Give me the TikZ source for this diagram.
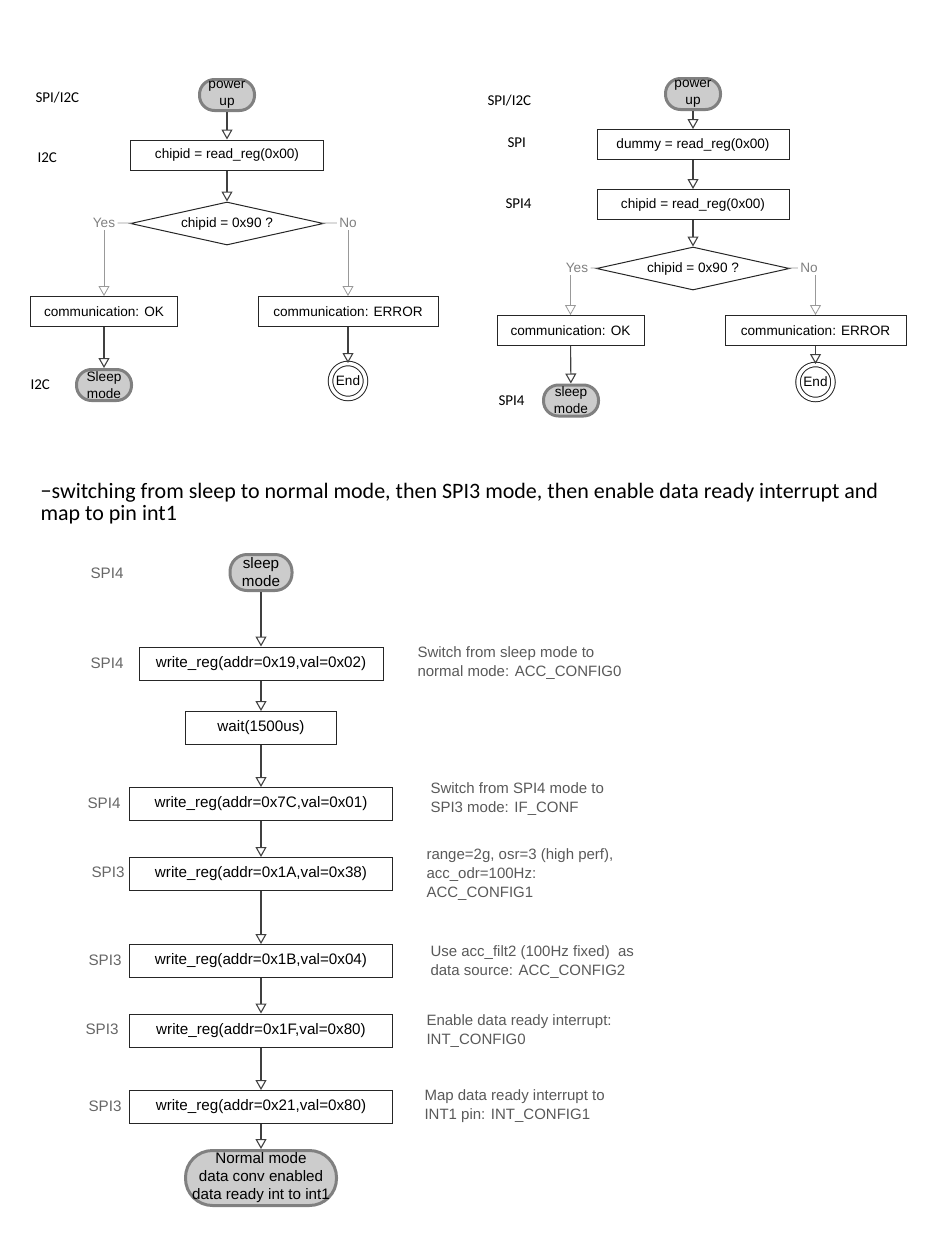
\documentclass[tikz,border=0pt]{standalone}
\usepackage{fontspec}
\setmainfont{Liberation Sans}
\newfontfamily\calib{Carlito}
\usetikzlibrary{arrows.meta,shapes.geometric,positioning}

\newcommand{\fntA}{\fontsize{13.6}{17}\selectfont}
\newcommand{\fntB}{\fontsize{15.2}{18}\selectfont}

\begin{document}
\begin{tikzpicture}[x=1pt,y=-1pt,->,>={Triangle[open,length=10pt,width=11pt]},
                    line width=1.1pt,draw=black!75,
                    box/.style={rectangle,draw=black!85,line width=1pt,minimum height=30pt,inner sep=0pt,font=\fntA},
                    boxb/.style={box,minimum height=33pt,font=\fntB},
                    pill/.style={rectangle,rounded corners=15pt,draw=black!50,line width=3pt,
                                 fill=black!20,inner sep=0pt,align=center,minimum width=55pt,minimum height=31pt,font=\fntA},
                    cond/.style={diamond,draw=black!85,line width=1pt,shape aspect=4.5,minimum width=193pt,
                                 minimum height=43pt,inner sep=0pt,font=\fntA},
                    stop/.style={circle,draw=black!85,line width=1pt,double,double distance=3.5pt,
                                 minimum size=35pt,inner sep=0pt,font=\fntA},
                    yn/.style={text=black!50,font=\fntA,inner sep=2pt},
                    faint/.style={draw=black!40,line width=0.8pt},
                    iface/.style={anchor=west,inner sep=0pt,font=\calib\fontsize{15}{18}\selectfont},
                    ifaceb/.style={anchor=west,inner sep=0pt,text=black!60,font=\fntB},
                    remark/.style={anchor=west,inner sep=0pt,align=left,text=black!65,font=\fontsize{15}{19}\selectfont}]

  \useasboundingbox (0,0) rectangle (939,1239);

  % power-up check over I2C
  \node[pill]                     (pwrA)  at (227,95)    {power\\up};
  \node[box,minimum width=193pt]  (readA) at (227,155)   {chipid = read\_reg(0x00)};
  \node[cond]                     (chkA)  at (227,223.5) {chipid = 0x90 ?};
  \node[yn]                       (yesA)  at (104,223)   {Yes};
  \node[yn]                       (noA)   at (348,223)   {No};
  \node[box,minimum width=147pt]  (okA)   at (104,311.5) {communication: OK};
  \node[box,minimum width=180pt]  (errA)  at (348,311.5) {communication: ERROR};
  \node[pill]                     (slpA)  at (104,385)   {Sleep\\mode};
  \node[stop]                     (endA)  at (348,381)   {End};

  \node[iface] (ifA1) at (35,98)  {SPI/I2C};
  \node[iface] (ifA2) at (37,158) {I2C};
  \node[iface] (ifA3) at (30,385) {I2C};

  \path (pwrA)  edge (readA)
        (readA) edge (chkA)
        (chkA)  edge[-,faint] (yesA)
                edge[-,faint] (noA)
        (yesA)  edge[faint] (okA)
        (noA)   edge[faint] (errA)
        (okA)   edge (slpA)
        (errA)  edge (endA);

  % power-up check over SPI
  \node[pill]                     (pwrB)  at (693,94)    {power\\up};
  \node[box,minimum width=192pt]  (dumB)  at (693,144.5) {dummy = read\_reg(0x00)};
  \node[box,minimum width=192pt]  (readB) at (693,204.5) {chipid = read\_reg(0x00)};
  \node[cond]                     (chkB)  at (693,268.5) {chipid = 0x90 ?};
  \node[yn]                       (yesB)  at (577,268)   {Yes};
  \node[yn]                       (noB)   at (809,268)   {No};
  \node[box,minimum width=147pt]  (okB)   at (570.5,330.5) {communication: OK};
  \node[box,minimum width=181pt]  (errB)  at (815.5,330.5) {communication: ERROR};
  \node[pill]                     (slpB)  at (571,400.5) {sleep\\mode};
  \node[stop]                     (endB)  at (815.5,382) {End};

  \node[iface] (ifB1) at (487,101) {SPI/I2C};
  \node[iface] (ifB2) at (507,143) {SPI};
  \node[iface] (ifB3) at (505,204) {SPI4};
  \node[iface] (ifB4) at (498,401) {SPI4};

  \path (pwrB)  edge (dumB)
        (dumB)  edge (readB)
        (readB) edge (chkB)
        (chkB)  edge[-,faint] (yesB)
                edge[-,faint] (noB)
        (yesB.south -| okB.north) edge[faint] (okB)
        (noB.south -| errB.north) edge[faint] (errB)
        (okB)   edge (slpB)
        (errB)  edge (endB);

  \node[anchor=north west,inner sep=0pt,align=left,font=\calib\fontsize{22}{21.5}\selectfont] (title) at (40,483)
    {−switching from sleep to normal mode, then SPI3 mode, then enable data ready interrupt and\\map to pin int1};

  % sleep -> normal mode, SPI3, data ready on int1
  \node[pill,minimum width=62pt,minimum height=36pt,rounded corners=17pt,font=\fntB] (slpC) at (261,572.5) {sleep\\mode};
  \node[boxb,minimum width=244pt] (w19)  at (261,663.5)  {write\_reg(addr=0x19,val=0x02)};
  \node[boxb,minimum width=151pt] (wait) at (261,728)    {wait(1500us)};
  \node[boxb,minimum width=263pt] (w7C)  at (261,804)    {write\_reg(addr=0x7C,val=0x01)};
  \node[boxb,minimum width=263pt] (w1A)  at (261,874)    {write\_reg(addr=0x1A,val=0x38)};
  \node[boxb,minimum width=263pt] (w1B)  at (261,961)    {write\_reg(addr=0x1B,val=0x04)};
  \node[boxb,minimum width=263pt] (w1F)  at (261,1030.5) {write\_reg(addr=0x1F,val=0x80)};
  \node[boxb,minimum width=263pt] (w21)  at (261,1107)   {write\_reg(addr=0x21,val=0x80)};
  \node[pill,minimum width=151pt,minimum height=55pt,rounded corners=27pt,font=\fntB] (done) at (261,1178)
    {Normal mode\\data conv enabled\\data ready int to int1};

  \node[ifaceb] (ifC1) at (90,573)  {SPI4};
  \node[ifaceb] (ifC2) at (90,663)  {SPI4};
  \node[ifaceb] (ifC3) at (87,803)  {SPI4};
  \node[ifaceb] (ifC4) at (91,872)  {SPI3};
  \node[ifaceb] (ifC5) at (88,960)  {SPI3};
  \node[ifaceb] (ifC6) at (85,1029) {SPI3};
  \node[ifaceb] (ifC7) at (88,1106) {SPI3};

  \node[remark] (rm19) at (417,663)    {Switch from sleep mode to\\normal mode: ACC\_CONFIG0};
  \node[remark] (rm7C) at (430,799.5)  {Switch from SPI4 mode to\\SPI3 mode: IF\_CONF};
  \node[remark] (rm1A) at (426,875)    {range=2g, osr=3 (high perf),\\acc\_odr=100Hz:\\ACC\_CONFIG1};
  \node[remark] (rm1B) at (430,962.5)  {Use acc\_filt2 (100Hz fixed)\ \ as\\data source: ACC\_CONFIG2};
  \node[remark] (rm1F) at (426,1031.5) {Enable data ready interrupt:\\INT\_CONFIG0};
  \node[remark] (rm21) at (424,1106.5) {Map data ready interrupt to\\INT1 pin: INT\_CONFIG1};

  \path (slpC) edge (w19)
        (w19)  edge (wait)
        (wait) edge (w7C)
        (w7C)  edge (w1A)
        (w1A)  edge (w1B)
        (w1B)  edge (w1F)
        (w1F)  edge (w21)
        (w21)  edge (done);
\end{tikzpicture}
\end{document}
